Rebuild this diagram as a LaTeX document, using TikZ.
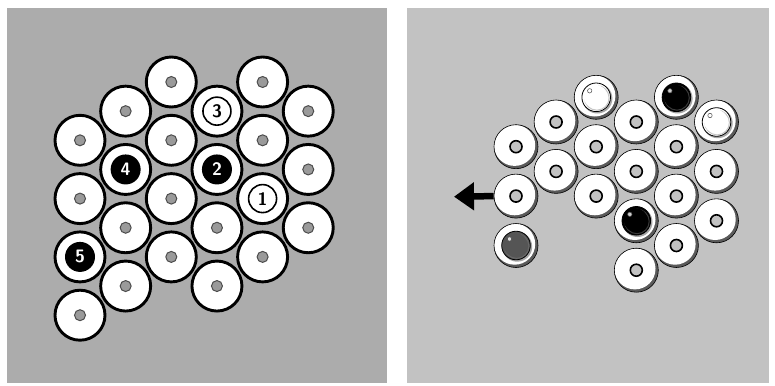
\documentclass[tikz,border=0pt]{standalone}
\usetikzlibrary{arrows.meta}
\definecolor{lbg}{HTML}{ACACAC}
\definecolor{rbg}{HTML}{C2C2C2}
\definecolor{ldot}{HTML}{9A9A9A}
\definecolor{rshadow}{HTML}{5A5A5A}
\definecolor{darkmarble}{HTML}{555555}
\newcommand\rbodyfill{\fill[white] ([shift={(-1.4pt,1.4pt)}]path picture bounding box.center) circle (20.6pt);}
\tikzset{
  ldonut/.style={circle, minimum size=50pt, inner sep=0pt, fill=white, draw=black, line width=2.9pt,
    path picture={\fill[ldot, draw=black!70, line width=1pt] (path picture bounding box.center) circle (5.5pt);}},
  lring/.style={circle, minimum size=50pt, inner sep=0pt, fill=white, draw=black, line width=2.9pt,
    font=\sffamily\bfseries\fontsize{18}{18}\selectfont, text=black,
    path picture={\draw[black, line width=1.6pt] (path picture bounding box.center) circle (14pt);}},
  lblack/.style={circle, minimum size=50pt, inner sep=0pt, fill=white, draw=black, line width=2.9pt,
    font=\sffamily\bfseries\fontsize{18}{18}\selectfont, text=white,
    path picture={\fill[black] (path picture bounding box.center) circle (15pt);}},
  rbase/.style={circle, minimum size=44pt, inner sep=0pt, fill=rshadow, draw=black, line width=0.6pt},
  rdonut/.style={rbase,
    path picture={\rbodyfill
      \fill[rbg] (path picture bounding box.center) circle (6pt);
      \draw[black, line width=1.6pt] (path picture bounding box.center) circle (6pt);}},
  rmarble/.style={rbase,
    path picture={\rbodyfill
      \fill[gray!70] ([shift={(1.2pt,-1.2pt)}]path picture bounding box.center) circle (15pt);
      \fill[#1, draw=black, line width=0.8pt] (path picture bounding box.center) circle (14.3pt);
      \draw[#1!55!gray, line width=1pt] ([shift={(0.6pt,-0.6pt)}]path picture bounding box.center) circle (12.3pt);
      \fill[#1] ([shift={(-0.8pt,0.8pt)}]path picture bounding box.center) circle (11.8pt);
      \draw[black!70, fill=white!80!#1, line width=0.5pt] ([shift={(-6.5pt,6.5pt)}]path picture bounding box.center) circle (2.2pt);}},
  arrowline/.style={line width=6.5pt, -{Triangle[length=20pt,width=27pt]}}
}
\begin{document}
\begin{tikzpicture}[x=1pt,y=-1pt]
\useasboundingbox (0,0) rectangle (775,385);
\fill[white] (0,0) rectangle (775,385);
\fill[lbg] (7,8) rectangle (387,383);
\fill[rbg] (407,8) rectangle (769,383);

% left panel: plain donuts
\foreach \c/\l/\n in {2/0/a1,4/0/a2,1/1/a3,5/1/a4,0/2/a5,2/2/a6,4/2/a7,5/3/a8,0/4/a9,2/4/a10,
  1/5/a11,3/5/a12,5/5/a13,2/6/a14,4/6/a15,1/7/a16,3/7/a17,0/8/a18}
  \node[ldonut] (\n) at ({80+45.65*\c},{82+29.15*\l}) {};
\node[lring]  (n3) at ({80+45.65*3},{82+29.15*1}) {3};
\node[lring]  (n1) at ({80+45.65*4},{82+29.15*4}) {1};
\node[lblack] (n4) at ({80+45.65*1},{82+29.15*3}) {4};
\node[lblack] (n2) at ({80+45.65*3},{82+29.15*3}) {2};
\node[lblack] (n5) at ({80+45.65*0},{82+29.15*6}) {5};

% right panel
\foreach \c/\l/\n in {1/1/b1,3/1/b2,0/2/b3,2/2/b4,4/2/b5,1/3/b6,3/3/b7,5/3/b8,
  0/4/b9,2/4/b10,4/4/b11,5/5/b12,4/6/b13,3/7/b14}
  \node[rdonut] (\n) at ({516+40.1*\c},{97.3+24.7*\l}) {};
\node[rmarble=white]      (m1) at ({516+40.1*2},{97.3+24.7*0}) {};
\node[rmarble=black]      (m2) at ({516+40.1*4},{97.3+24.7*0}) {};
\node[rmarble=white]      (m3) at ({516+40.1*5},{97.3+24.7*1}) {};
\node[rmarble=black]      (m4) at ({516+40.1*3},{97.3+24.7*5}) {};
\node[rmarble=darkmarble] (m5) at ({516+40.1*0},{97.3+24.7*6}) {};

\coordinate (tip) at (454,196.7);
\draw[arrowline] (b9.west) -- (tip);
\end{tikzpicture}
\end{document}
